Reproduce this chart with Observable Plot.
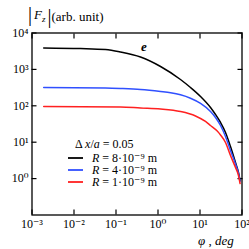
<!DOCTYPE html>
<html>
<head>
<meta charset="utf-8">
<script src="https://cdn.jsdelivr.net/npm/d3@7"></script>
<script src="https://cdn.jsdelivr.net/npm/@observablehq/plot@0.6"></script>
<style>
  html, body { margin: 0; padding: 0; background: white; }
  #chart { width: 249px; height: 249px; }
</style>
</head>
<body>
<div id="chart"></div>
<script>
// φ (deg) and |Fz| (arb. unit)
const phiBlack = [0.0019, 0.0143, 0.0562, 0.128, 0.383, 1.15, 3.43, 5.94, 10.3, 17.8, 23.4, 30.8, 40.5, 53.2, 70.0, 82.5, 90];
const fBlack   = [3900, 3750, 3520, 3010, 2190, 1202, 528, 318, 180, 89.8, 57.7, 34.8, 18.5, 7.6, 2.77, 1.47, 0.89];

const phiBlue = [0.0019, 0.0562, 0.128, 0.383, 1.15, 1.99, 3.43, 5.94, 10.3, 17.8, 23.4, 30.8, 40.5, 53.2, 70.0, 82.5, 90];
const fBlue   = [318, 308, 299, 281, 247, 228, 200, 161, 116, 69.7, 47.7, 28.8, 14.4, 5.9, 2.52, 1.38, 0.83];

const phiRed = [0.0019, 0.128, 0.383, 1.15, 3.43, 7.81, 13.5, 17.8, 25.7, 30.8, 40.5, 53.2, 70.0, 82.5, 90];
const fRed   = [95.7, 92.7, 87, 81.7, 69.7, 52.5, 37.1, 28.8, 20.3, 15.8, 9.8, 4.3, 2.02, 1.22, 0.73];

const seriesNames  = ["R = 8·10⁻⁹ m", "R = 4·10⁻⁹ m", "R = 1·10⁻⁹ m"];
const seriesColors = ["#000000", "#3050ff", "#ff2020"];

const xTicks = [1e-3, 1e-2, 1e-1, 1e0, 1e1, 1e2];
const xTickLabels = ["10⁻³", "10⁻²", "10⁻¹", "10⁰", "10¹", "10²"];
const yTicks = [1e0, 1e1, 1e2, 1e3, 1e4];
const yTickLabels = ["10⁰", "10¹", "10²", "10³", "10⁴"];

const toRows = (xs, ys, s) => xs.map((x, i) => ({phi: x, F: ys[i], s}));
const rows = [
  ...toRows(phiBlack, fBlack, seriesNames[0]),
  ...toRows(phiBlue, fBlue, seriesNames[1]),
  ...toRows(phiRed, fRed, seriesNames[2])
];

const fmtX = d => xTickLabels[xTicks.indexOf(d)];
const fmtY = d => yTickLabels[yTicks.indexOf(d)];

const plot = Plot.plot({
  width: 249,
  height: 249,
  marginLeft: 31.5,
  marginRight: 7.5,
  marginTop: 32.5,
  marginBottom: 34.5,
  style: {fontFamily: "'Liberation Serif', 'DejaVu Serif', serif", fontSize: "12px", background: "white", color: "black"},
  x: {type: "log", domain: [1e-3, 1e2]},
  y: {type: "log", domain: [1e-1, 1e4]},
  color: {domain: seriesNames, range: seriesColors},
  marks: [
    Plot.axisX({anchor: "bottom", ticks: xTicks, tickSize: -5, tickPadding: 9, tickFormat: fmtX, label: null, strokeWidth: 1.2}),
    Plot.axisX({anchor: "top", ticks: xTicks, tickSize: -5, tickPadding: 0, tickFormat: () => "", label: null, strokeWidth: 1.2}),
    Plot.axisY({anchor: "left", ticks: yTicks, tickSize: -5, tickPadding: 8.5, tickFormat: fmtY, label: null, strokeWidth: 1.2}),
    Plot.axisY({anchor: "right", ticks: yTicks, tickSize: -5, tickPadding: 0, tickFormat: () => "", label: null, strokeWidth: 1.2}),
    Plot.line(rows, {x: "phi", y: "F", z: "s", stroke: "s", strokeWidth: 1.5, curve: "monotone-x"}),
    Plot.frame({stroke: "black", strokeWidth: 1.3})
  ]
});
document.getElementById("chart").appendChild(plot);

// annotations (title, axis label, legend, curve tag)
const svg = d3.select(plot);
const serif = "'Liberation Serif', 'DejaVu Serif', serif";
const txt = (x, y, size) => svg.append("text").attr("x", x).attr("y", y).attr("text-anchor", "start")
  .attr("font-family", serif).attr("font-size", size).attr("fill", "black");

const title = txt(28, 19, 13);
title.append("tspan").attr("font-size", 20).attr("dy", 2).text("|");
title.append("tspan").attr("font-style", "italic").attr("dx", 2).attr("dy", -2).text("F");
title.append("tspan").attr("font-style", "italic").attr("font-size", 9).attr("dy", 3).text("z");
title.append("tspan").attr("font-size", 20).attr("dx", 2).attr("dy", 1).text("|");
title.append("tspan").attr("dy", -2).text("(arb. unit)");

const xl = txt(198, 245, 13).attr("font-style", "italic");
xl.append("tspan").text("φ");
xl.append("tspan").attr("font-style", "normal").text(" , ");
xl.append("tspan").text("deg");

txt(144, 51, 13).attr("text-anchor", "middle").attr("font-style", "italic").attr("font-weight", "bold").text("e");

const lg = txt(75, 148, 12);
lg.append("tspan").text("Δ ");
lg.append("tspan").attr("font-style", "italic").text("x");
lg.append("tspan").text("/");
lg.append("tspan").attr("font-style", "italic").text("a");
lg.append("tspan").text(" = 0.05");

seriesNames.forEach((name, i) => {
  const y = 158 + i * 12;
  svg.append("line").attr("x1", 68).attr("x2", 83).attr("y1", y).attr("y2", y)
    .attr("stroke", seriesColors[i]).attr("stroke-width", 1.8);
  const t = txt(92, y + 3.5, 12);
  const parts = name.split(" ");
  t.append("tspan").attr("font-style", "italic").text("R");
  t.append("tspan").text(" " + parts.slice(1).join(" "));
});
</script>
</body>
</html>
